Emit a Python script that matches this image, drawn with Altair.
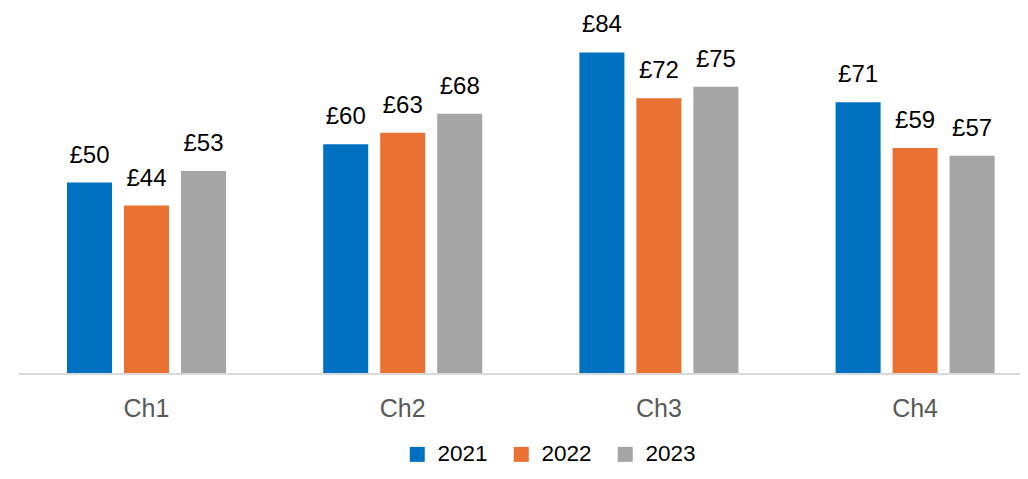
import altair as alt
import pandas as pd

channels = ["Ch1", "Ch2", "Ch3", "Ch4"]
years = ["2021", "2022", "2023"]
values_2021 = [50, 60, 84, 71]
values_2022 = [44, 63, 72, 59]
values_2023 = [53, 68, 75, 57]
colors = ["#0070C0", "#E97132", "#A5A5A5"]

rows = []
for yr, vals in zip(years, [values_2021, values_2022, values_2023]):
    for ch, v in zip(channels, vals):
        rows.append({"channel": ch, "year": yr, "value": v, "label": f"£{v}"})
df = pd.DataFrame(rows)

FONT = "Liberation Sans"

x_enc = alt.X(
    "channel:N",
    sort=channels,
    title=None,
    scale=alt.Scale(range=[49, 976.6], paddingInner=0.3794, paddingOuter=0, round=False),
    axis=alt.Axis(
        labelAngle=0,
        ticks=False,
        tickSize=0,
        domain=False,
        labelPadding=42,
        labelBaseline="alphabetic",
        labelFontSize=25,
        labelColor="#595959",
        labelFont=FONT,
        grid=False,
    ),
)
xoff_enc = alt.XOffset("year:N", sort=years, scale=alt.Scale(paddingInner=0.2105, paddingOuter=0))
y_enc = alt.Y("value:Q", title=None, axis=None, scale=alt.Scale(domain=[0, 95.6], nice=False, zero=True))

bars = alt.Chart(df).mark_bar().encode(
    x=x_enc,
    xOffset=xoff_enc,
    y=y_enc,
    color=alt.Color(
        "year:N",
        sort=years,
        scale=alt.Scale(domain=years, range=colors),
        legend=alt.Legend(
            title=None,
            orient="none",
            direction="horizontal",
            legendX=388,
            legendY=435,
            symbolType="square",
            symbolSize=225,
            symbolStrokeWidth=0,
            labelFontSize=22.5,
            labelFont=FONT,
            labelColor="#000000",
            labelOffset=9,
            columnPadding=22,
            padding=0,
        ),
    ),
)

labels = alt.Chart(df).mark_text(
    baseline="alphabetic", dy=-20, fontSize=24, font=FONT, color="#000000"
).encode(
    x=x_enc,
    xOffset=xoff_enc,
    y=y_enc,
    text="label:N",
)

baseline = alt.Chart(df).mark_rule(color="#D9D9D9", strokeWidth=2).encode(
    x=alt.value(1), x2=alt.value(1002), y=alt.value(366)
)

chart = (
    alt.layer(bars, baseline, labels)
    .properties(
        width=1002,
        height=366,
        padding={"left": 10, "top": 0, "right": 0, "bottom": 93},
        autosize=alt.AutoSizeParams(type="none"),
    )
    .configure_view(stroke=None)
)

chart.save("out.html", embed_options={"renderer": "svg", "actions": False})
